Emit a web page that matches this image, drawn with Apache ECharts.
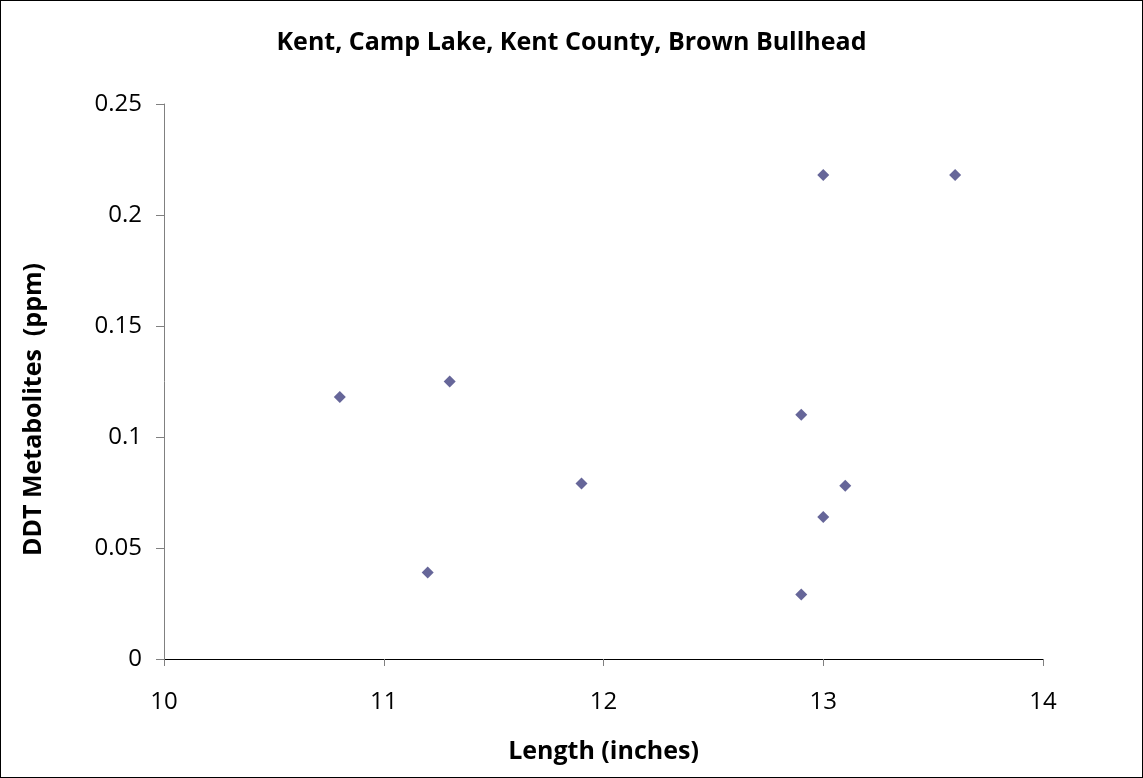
<!DOCTYPE html>
<html>
<head>
<meta charset="utf-8">
<script src="https://cdn.jsdelivr.net/npm/echarts@6/dist/echarts.min.js"></script>
<style>
html,body{margin:0;padding:0;background:#fff;}
#c{width:1143px;height:778px;box-sizing:border-box;border:1px solid #000;}
</style>
</head>
<body>
<div id="c"></div>
<script>
var lengths = [10.8, 11.2, 11.3, 11.9, 12.9, 12.9, 13.0, 13.0, 13.1, 13.6];
var ddt = [0.118, 0.039, 0.125, 0.079, 0.110, 0.029, 0.218, 0.064, 0.078, 0.218];
var titleText = 'Kent, Camp Lake, Kent County, Brown Bullhead';
var xName = 'Length (inches)';
var yName = 'DDT Metabolites  (ppm)';

var pts = lengths.map(function(v, i){ return [v, ddt[i]]; });
var font = '"Open Sans", "Liberation Sans", sans-serif';
var chart = echarts.init(document.getElementById('c'));
chart.setOption({
  animation: false,
  title: {text: titleText, left: 'center', top: 24,
    textStyle: {fontFamily: font, fontSize: 25, fontWeight: 'bold', color: '#000'}},
  grid: {left: 163, right: 99, top: 103, bottom: 118},
  xAxis: {type: 'value', min: 10, max: 14, interval: 1,
    name: xName, nameLocation: 'middle', nameGap: 80,
    nameTextStyle: {fontFamily: font, fontSize: 25, fontWeight: 'bold', color: '#000'},
    axisLine: {show: true, onZero: false, lineStyle: {color: '#000', width: 1}},
    axisTick: {show: true, length: 7, inside: false, lineStyle: {color: '#808080'}},
    axisLabel: {fontFamily: font, fontSize: 24, color: '#000', margin: 31},
    splitLine: {show: false}},
  yAxis: {type: 'value', min: 0, max: 0.25, interval: 0.05,
    name: yName, nameLocation: 'middle', nameGap: 118, nameRotate: 90,
    nameTextStyle: {fontFamily: font, fontSize: 25, fontWeight: 'bold', color: '#000', padding: [0, 56, 0, 0]},
    axisLine: {show: true, onZero: false, lineStyle: {color: '#808080', width: 1}},
    axisTick: {show: true, length: 8, inside: false, lineStyle: {color: '#808080'}},
    axisLabel: {fontFamily: font, fontSize: 24, color: '#000', margin: 22},
    splitLine: {show: false}},
  series: [{type: 'scatter', data: pts, symbol: 'diamond', symbolSize: 12,
    itemStyle: {color: '#666699', opacity: 1}}]
});
</script>
</body>
</html>
